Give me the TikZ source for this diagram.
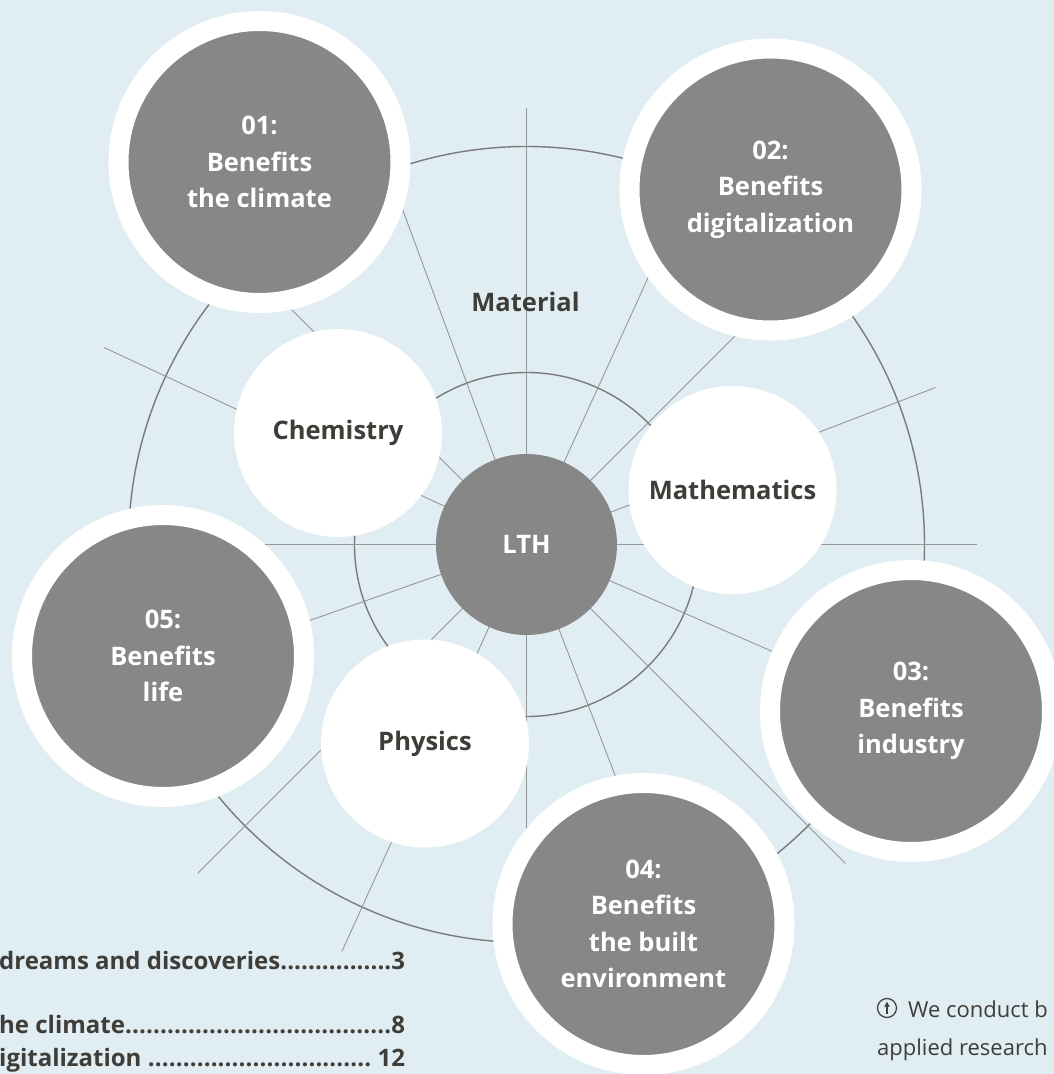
\documentclass[tikz,border=0pt]{standalone}
\usepackage{fontspec}
\setmainfont{Open Sans}
\usetikzlibrary{arrows.meta}

\definecolor{bgblue}{RGB}{224,237,243}
\definecolor{discgray}{RGB}{135,135,135}
\definecolor{ringgray}{RGB}{122,122,122}
\definecolor{spokegray}{RGB}{150,150,150}
\definecolor{textdark}{RGB}{62,61,56}

\newcommand\tocdots{\xleaders\hbox{.}\hfill}

\tikzset{
	bigdisc/.style={circle,fill=discgray,draw=white,line width=20pt,minimum size=282pt,inner sep=0pt,
		text=white,align=center,font=\bfseries\fontsize{25.5}{36.5}\selectfont},
	smalldisc/.style={circle,fill=white,minimum size=208pt,inner sep=0pt,
		text=textdark,font=\bfseries\fontsize{25.5}{30}\selectfont},
	ring/.style={draw=ringgray,line width=1.4pt},
	spoke/.style={draw=spokegray,line width=0.9pt},
	toc/.style={anchor=base west,inner sep=0pt,text=textdark,font=\bfseries\fontsize{24}{28}\selectfont},
	note/.style={anchor=base west,inner sep=0pt,text=textdark,font=\fontsize{22}{26}\selectfont}
}

\begin{document}
\begin{tikzpicture}[x=1pt,y=1pt,>={Latex[length=5pt,width=6pt]}]
	\clip (-526.5,-529.5) rectangle (527.5,544.5);
	\fill[bgblue] (-526.5,-529.5) rectangle (527.5,544.5);
	
	% rings and spokes round LTH
	\draw[ring] (0,0) circle (398);
	\draw[ring] (0,0) circle (172);
	\foreach \a/\r in {0/450,21/438,45/400,65.5/400,90/436,110.3/400,135/400,155/466,
		180/400,199.3/400,225/465,245.6/447,270/420,291/420,315/451,336.5/420}
		\draw[spoke] (0,0) -- (\a:\r);
	
	\node[text=textdark,font=\bfseries\fontsize{25.5}{30}\selectfont] (material) at (-1,242.5) {Material};
	
	% subjects
	\node[smalldisc] (chem) at (-188.5,111.5) {Chemistry};
	\node[smalldisc] (math) at (206,54.5) {Mathematics};
	\node[smalldisc] (phys) at (-101.5,-199) {Physics};
	\node[circle,fill=discgray,minimum size=181pt,inner sep=0pt,text=white,
		font=\bfseries\fontsize{25.5}{30}\selectfont] (lth) at (0,0) {LTH};
	
	% benefits
	\node[bigdisc] (b01) at (-267,382.5) {01:\\Benefits\\the climate};
	\node[bigdisc] (b02) at (244,355) {02:\\Benefits\\digitalization};
	\node[bigdisc] (b03) at (384.5,-166.5) {03:\\Benefits\\industry};
	\node[bigdisc] (b04) at (117,-379.5) {04:\\Benefits\\the built\\environment};
	\node[bigdisc] (b05) at (-363.5,-111.5) {05:\\Benefits\\life};
	
	% contents list
	\node[toc] (toc1) at (-527.5,-424.5) {\makebox[406pt][l]{dreams and discoveries\tocdots 3}};
	\node[toc] (toc2) at (-527.5,-488.5) {\makebox[406pt][l]{he climate\tocdots 8}};
	\node[toc] (toc3) at (-527.5,-521.5) {\makebox[406pt][l]{igitalization \tocdots\ 12}};
	
	% caption
	\draw[textdark,line width=1.2pt] (360.5,-463.5) circle (9.5);
	\draw[->,textdark,line width=1.2pt] (360.5,-469.5) -- (360.5,-457);
	\node[note] (note1) at (381.5,-472.5) {We conduct b};
	\node[note] (note2) at (350.5,-510.5) {applied research};
\end{tikzpicture}
\end{document}
